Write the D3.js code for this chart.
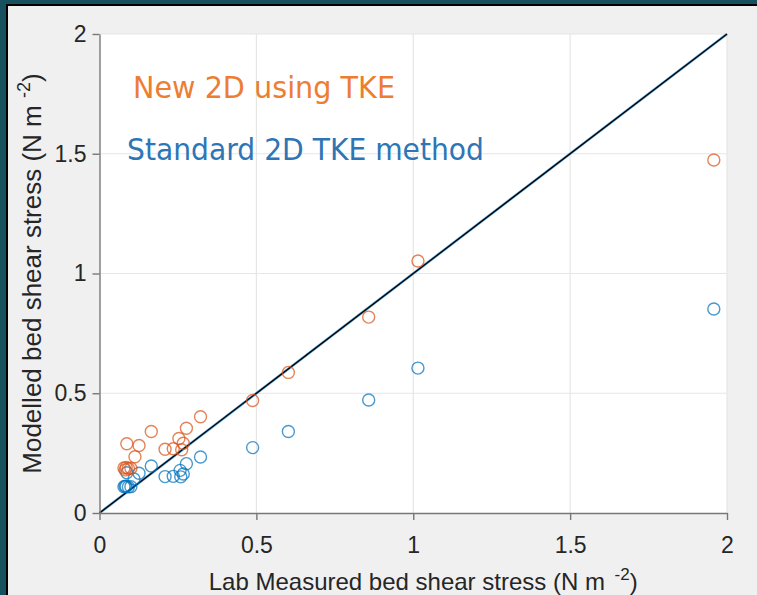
<!DOCTYPE html>
<html>
<head>
<meta charset="utf-8">
<script src="https://cdn.jsdelivr.net/npm/d3@7"></script>
<style>
  html, body { margin: 0; padding: 0; background: #17505e; }
  svg { display: block; }
</style>
</head>
<body>
<svg id="chart" width="757" height="595"></svg>
<script>
// Lab-measured vs modelled bed shear stress (N m^-2)
const newTkeX = [1.958, 1.015, 0.858, 0.602, 0.488, 0.322, 0.277, 0.253, 0.267, 0.262, 0.235, 0.209, 0.165, 0.126, 0.113, 0.087, 0.078, 0.085, 0.092, 0.100, 0.082];
const newTkeY = [1.474, 1.052, 0.818, 0.587, 0.470, 0.402, 0.354, 0.311, 0.291, 0.264, 0.268, 0.266, 0.340, 0.282, 0.235, 0.289, 0.188, 0.190, 0.186, 0.187, 0.180];
const stdTkeX = [1.958, 1.015, 0.858, 0.602, 0.488, 0.322, 0.277, 0.257, 0.267, 0.259, 0.235, 0.209, 0.165, 0.126, 0.110, 0.087, 0.078, 0.085, 0.092, 0.100, 0.082];
const stdTkeY = [0.852, 0.605, 0.472, 0.340, 0.273, 0.234, 0.206, 0.178, 0.163, 0.151, 0.153, 0.152, 0.196, 0.166, 0.142, 0.168, 0.110, 0.111, 0.109, 0.110, 0.112];
const xTicks = [0, 0.5, 1, 1.5, 2];
const yTicks = [0, 0.5, 1, 1.5, 2];
const xTickLabels = ["0", "0.5", "1", "1.5", "2"];
const yTickLabels = ["0", "0.5", "1", "1.5", "2"];
const seriesNames = ["New 2D using TKE", "Standard 2D TKE method"];

const svg = d3.select("#chart");
const W = 757, H = 595;

// Figure frame: dark outer band, thin black rule, light grey figure background
svg.append("rect").attr("x", 0).attr("y", 0).attr("width", W).attr("height", H).attr("fill", "#17505e");
svg.append("rect").attr("x", 6).attr("y", 4).attr("width", W - 6).attr("height", H - 4).attr("fill", "#000");
svg.append("rect").attr("x", 8).attr("y", 6).attr("width", W - 8).attr("height", H - 6).attr("fill", "#f0f0f0");

const m = { left: 99.5, right: 727, top: 34, bottom: 513 };
const x = d3.scaleLinear().domain([0, 2]).range([m.left, m.right]);
const y = d3.scaleLinear().domain([0, 2]).range([m.bottom, m.top]);

// Plot area
svg.append("rect")
  .attr("x", m.left).attr("y", m.top)
  .attr("width", m.right - m.left).attr("height", m.bottom - m.top)
  .attr("fill", "#ffffff");

// Grid
const grid = svg.append("g").attr("stroke", "#e6e6e6").attr("stroke-width", 1.2);
grid.selectAll("line.gx").data(xTicks.slice(1)).join("line")
  .attr("x1", d => x(d)).attr("x2", d => x(d))
  .attr("y1", m.top).attr("y2", m.bottom);
grid.selectAll("line.gy").data(yTicks.slice(1)).join("line")
  .attr("y1", d => y(d)).attr("y2", d => y(d))
  .attr("x1", m.left).attr("x2", m.right);

// 1:1 line
const oneToOne = [[0, 0], [2, 2]];
const lineGen = d3.line().x(d => x(d[0])).y(d => y(d[1]));
svg.append("path").datum(oneToOne).attr("d", lineGen)
  .attr("fill", "none").attr("stroke", "#5fa8dc").attr("stroke-width", 2.6);
svg.append("path").datum(oneToOne).attr("d", lineGen)
  .attr("fill", "none").attr("stroke", "#000").attr("stroke-width", 1.3);

// Markers
function drawSeries(xs, ys, color) {
  svg.append("g").selectAll("circle")
    .data(xs.map((v, i) => [v, ys[i]]))
    .join("circle")
    .attr("cx", d => x(d[0])).attr("cy", d => y(d[1]))
    .attr("r", 6)
    .attr("fill", "none")
    .attr("stroke", color)
    .attr("stroke-opacity", 0.72)
    .attr("stroke-width", 1.4);
}
drawSeries(stdTkeX, stdTkeY, "#0072BD");
drawSeries(newTkeX, newTkeY, "#D95319");

// Axes
const axisFont = "'Liberation Sans', Arial, Helvetica, sans-serif";
const xAxis = svg.append("g").attr("transform", `translate(0,${m.bottom})`)
  .call(d3.axisBottom(x).tickValues(xTicks).tickFormat((d, i) => xTickLabels[i]).tickSizeInner(7).tickSizeOuter(0).tickPadding(17));
const yAxis = svg.append("g").attr("transform", `translate(${m.left},0)`)
  .call(d3.axisLeft(y).tickValues(yTicks).tickFormat((d, i) => yTickLabels[i]).tickSizeInner(7).tickSizeOuter(0).tickPadding(6));
[xAxis, yAxis].forEach(a => {
  a.select(".domain").attr("stroke", "#777").attr("stroke-width", 1.4);
  a.selectAll(".tick line").attr("stroke", "#777").attr("stroke-width", 1.4);
  a.selectAll(".tick text").attr("fill", "#262626")
    .style("font-family", axisFont).style("font-size", "23px");
});

// Axis titles
const xTitle = svg.append("text")
  .attr("x", (m.left + m.right) / 2 + 10).attr("y", 590)
  .attr("text-anchor", "middle").attr("fill", "#262626")
  .style("font-family", axisFont).style("font-size", "24px");
xTitle.append("tspan").text("Lab Measured bed shear stress (N m ");
xTitle.append("tspan").attr("dx", 3).attr("dy", -10).style("font-size", "17px").text("-2");
xTitle.append("tspan").attr("dy", 10).text(")");

const yTitle = svg.append("text")
  .attr("transform", `translate(41,${(m.top + m.bottom) / 2}) rotate(-90)`)
  .attr("text-anchor", "middle").attr("fill", "#262626")
  .style("font-family", axisFont).style("font-size", "26px");
yTitle.append("tspan").text("Modelled bed shear stress (N m ");
yTitle.append("tspan").attr("dy", -11).style("font-size", "18px").text("-2");
yTitle.append("tspan").attr("dy", 11).text(")");

// Series annotations
const noteFont = "Tahoma, 'DejaVu Sans', Verdana, sans-serif";
svg.append("text").attr("x", 133).attr("y", 98)
  .attr("fill", "#ED7D31").style("font-family", noteFont).style("font-size", "30px")
  .attr("textLength", 262).attr("lengthAdjust", "spacingAndGlyphs")
  .text(seriesNames[0]);
svg.append("text").attr("x", 127).attr("y", 160)
  .attr("fill", "#2E75B6").style("font-family", noteFont).style("font-size", "30px")
  .attr("textLength", 357).attr("lengthAdjust", "spacingAndGlyphs")
  .text(seriesNames[1]);
</script>
</body>
</html>
